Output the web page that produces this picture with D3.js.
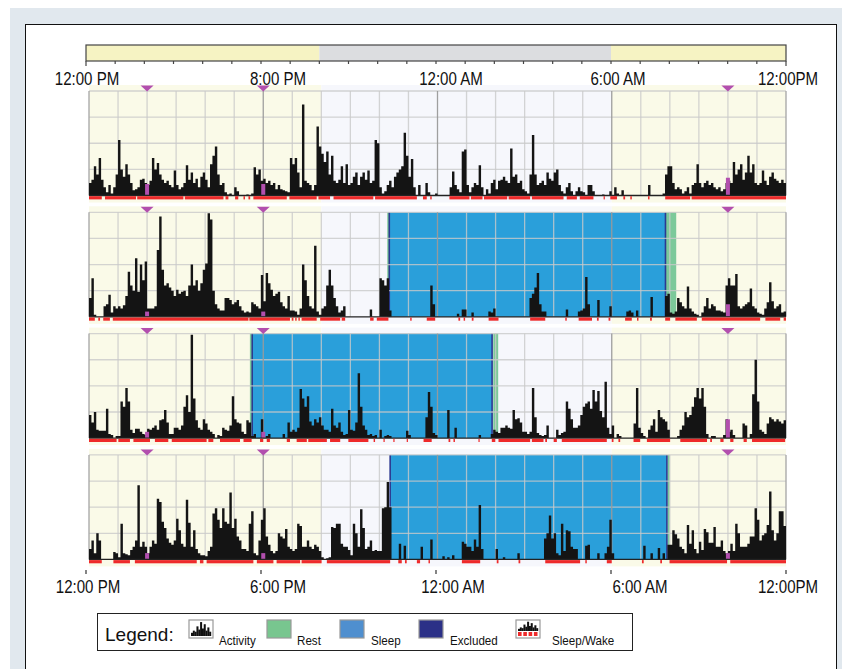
<!DOCTYPE html>
<html>
<head>
<meta charset="utf-8">
<script src="https://cdn.jsdelivr.net/npm/d3@7"></script>
<style>
  body { margin: 0; background: #fff; }
  svg { display: block; font-family: "Liberation Sans", Arial, sans-serif; }
  .axisLabel { font-size: 17.5px; fill: #111; }
</style>
</head>
<body>
<div id="chart"></div>
<script>
// activity counts, 5-minute bins, 12 per hour, starting at 12:00 PM (0-100 scale)
const act1 = [
  [12,15,28,20,36,15,8,3,10,2,8,20],
  [53,25,18,30,20,12,5,6,8,15,16,12],
  [10,14,36,25,31,20,15,12,14,10,8,24],
  [10,6,8,12,29,15,22,12,16,8,18,22],
  [15,8,30,38,47,20,10,12,3,1,2,0],
  [8,4,0,0,0,1,0,2,27,20,25,14],
  [16,12,14,10,12,6,10,6,5,4,3,36],
  [30,36,22,8,87,14,12,10,5,10,66,47],
  [40,32,42,20,38,14,12,15,28,12,30,10],
  [12,18,22,10,18,22,15,24,12,14,53,50],
  [8,2,4,10,14,8,18,22,25,28,60,38],
  [18,35,8,0,10,0,0,12,3,0,0,2],
  [0,0,0,0,0,8,23,10,6,3,42,44],
  [10,3,8,12,10,29,8,0,6,2,12,15],
  [6,14,15,18,14,12,45,18,20,12,14,6],
  [4,2,20,58,20,10,12,14,10,22,16,14],
  [22,25,10,4,2,8,12,4,0,4,8,4],
  [3,0,10,10,4,0,0,0,1,0,0,4],
  [0,8,2,0,5,0,0,0,0,0,0,0],
  [0,0,0,10,0,0,0,0,0,2,20,28],
  [28,12,6,8,6,2,4,8,2,10,12,30],
  [12,8,12,14,10,12,8,6,8,4,6,12],
  [14,12,32,20,25,30,15,22,38,22,30,12],
  [10,12,24,14,10,18,22,16,14,12,15,12]
].flat();

const act2 = [
  [18,37,2,0,0,0,10,12,21,4,10,8],
  [10,8,11,20,43,30,25,56,24,50,35,53],
  [8,8,8,10,64,96,45,30,32,28,25,20],
  [26,22,24,25,20,30,50,30,35,25,32,45],
  [51,99,93,25,12,8,6,6,18,18,16,12],
  [14,16,10,6,4,5,4,14,12,10,8,40],
  [15,42,32,26,20,22,24,14,10,8,20,6],
  [6,5,2,8,50,35,20,10,8,68,5,2],
  [8,10,30,45,30,18,10,4,6,10,0,0],
  [0,0,0,0,0,0,0,0,7,0,0,0],
  [37,35,30,37,6,0,0,0,0,0,0,0],
  [0,0,0,0,0,0,0,0,0,30,12,0],
  [0,0,0,0,0,0,0,0,3,0,7,7],
  [0,0,4,0,0,0,0,0,0,5,4,8],
  [0,0,0,0,0,0,0,0,0,0,0,0],
  [0,0,18,22,28,42,12,5,5,0,0,0],
  [0,0,0,0,0,7,0,0,0,0,5,6],
  [8,38,12,0,0,0,16,0,0,0,0,10],
  [0,0,0,0,0,0,5,6,4,0,6,0],
  [0,0,0,0,19,0,0,0,0,0,20,22],
  [4,3,5,18,14,10,8,29,8,5,3,2],
  [0,4,10,18,8,12,10,6,6,5,4,30],
  [37,30,30,41,10,8,10,12,14,27,10,8],
  [4,3,2,8,14,33,15,8,10,12,4,5]
].flat();

const act3 = [
  [22,15,25,8,7,7,7,28,4,3,0,2],
  [2,35,30,48,35,8,5,9,9,6,4,3],
  [9,8,10,12,8,17,18,27,15,4,4,10],
  [10,8,12,30,41,25,99,38,17,10,8,18],
  [14,8,6,4,0,3,2,10,8,7,12,40],
  [18,15,14,6,4,17,15,2,4,0,0,18],
  [0,2,4,0,0,0,0,0,4,0,15,6],
  [8,6,10,47,38,30,40,16,12,18,15,20],
  [12,8,8,6,28,12,10,15,6,3,4,27],
  [8,7,15,62,30,12,8,3,4,2,3,0],
  [8,0,2,3,2,0,0,0,0,0,0,7],
  [3,0,0,0,0,0,0,20,44,30,5,3],
  [0,0,0,0,27,0,0,10,0,0,0,0],
  [0,0,0,0,0,3,0,0,0,0,4,8],
  [6,5,10,10,12,10,9,27,18,19,15,6],
  [6,4,6,48,20,5,3,2,3,12,0,0],
  [0,8,3,5,6,35,28,18,10,10,12,22],
  [30,33,35,28,46,35,45,26,20,54,10,4],
  [12,0,4,2,0,0,0,0,0,14,48,10],
  [5,2,0,8,12,18,6,27,20,18,16,8],
  [0,0,0,2,8,12,25,20,22,30,39,48],
  [38,48,30,4,0,2,2,0,0,0,3,18],
  [6,8,3,0,0,0,14,12,0,4,42,75],
  [35,8,6,4,14,20,18,16,18,16,14,17]
].flat();

const act4 = [
  [10,18,6,25,18,0,0,0,0,0,7,6],
  [2,34,6,5,4,9,12,18,71,12,17,12],
  [6,12,18,15,58,55,36,30,20,16,14,18],
  [39,28,15,12,57,35,12,28,10,6,4,4],
  [3,8,12,44,49,38,30,49,36,34,64,30],
  [39,22,18,10,10,8,34,46,6,4,18,38],
  [49,22,14,8,6,8,25,22,20,29,12,10],
  [8,10,34,32,12,12,18,12,10,14,12,8],
  [2,0,1,2,31,30,34,34,15,12,12,9],
  [4,34,25,12,48,30,10,12,18,8,9,8],
  [8,49,50,74,50,0,0,0,15,0,13,0],
  [0,0,0,0,0,12,0,0,0,19,0,0],
  [0,0,3,0,2,0,4,0,0,0,17,15],
  [12,12,8,19,12,52,10,0,0,0,0,0],
  [10,0,0,2,0,0,0,0,0,6,0,0],
  [0,0,0,0,0,0,0,0,20,25,42,20],
  [25,6,4,34,8,28,27,12,10,10,0,0],
  [0,13,14,0,0,0,6,0,0,6,12,38],
  [6,0,0,0,0,0,0,0,0,0,0,0],
  [0,13,0,0,6,0,0,11,0,6,0,14],
  [14,28,24,20,12,10,6,33,15,28,10,6],
  [17,9,29,26,16,16,31,12,12,18,8,6],
  [8,15,8,34,25,12,12,12,15,22,22,49],
  [38,18,23,25,33,65,28,18,25,46,46,32]
].flat();

// wake epochs (red sleep/wake strip), in hours after 12:00 PM
const wake1 = [[0,0.44],[0.55,1.62],[1.66,3.25],[3.3,4.63],[4.7,4.8],[5.03,5.14],[5.32,5.37],[5.49,5.55],[5.66,6.81],[6.9,7.84],[7.9,8.3],[8.42,9.79],[9.85,11.29],[11.5,11.63],[11.75,11.8],[12.41,13.1],[13.15,13.55],[13.6,14.4],[14.45,15.19],[15.25,16.34],[16.45,16.8],[16.9,17.37],[17.72,17.75],[17.95,18.18],[18.4,18.46],[18.64,18.69],[19.25,19.3],[19.84,20.7],[20.75,24]];
const wake2 = [[0,0.2],[0.32,0.38],[0.49,0.72],[0.82,5.49],[5.52,6.92],[6.98,7.04],[7.1,7.15],[7.21,7.26],[7.32,7.84],[7.96,8.65],[8.7,8.82],[9.68,9.8],[9.91,10.31],[11.06,11.11],[11.63,11.92],[12.72,12.78],[12.9,12.95],[13.18,13.24],[13.76,14.1],[15.19,15.71],[16.4,16.45],[16.86,17.32],[17.49,17.55],[17.89,17.95],[18.46,18.69],[18.87,18.92],[19.32,19.38],[19.84,20.01],[20.19,20.93],[21.1,23.11],[23.29,23.8],[23.92,24]];
const wake3 = [[0,0.95],[1.01,1.41],[1.53,2.1],[2.27,2.73],[2.85,4.05],[4.11,4.28],[4.51,5.2],[5.32,5.6],[5.89,6.0],[6.12,6.23],[6.81,6.92],[7.15,7.5],[7.55,8.19],[8.3,8.65],[8.93,9.62],[9.8,9.85],[10.14,10.18],[10.48,10.52],[10.94,10.98],[11.52,11.8],[12.38,12.44],[12.55,12.6],[13.41,13.45],[13.87,13.99],[14.1,15.19],[15.25,15.65],[15.71,15.77],[16.0,16.11],[16.28,17.83],[18.0,18.06],[18.23,18.29],[18.75,18.98],[19.21,20.01],[20.36,21.28],[21.39,21.45],[21.74,21.85],[22.08,22.19],[22.54,22.65],[22.83,23.97]];
const wake4 = [[0,0.44],[0.84,1.41],[1.58,3.71],[3.82,3.94],[4.05,5.66],[5.78,6.35],[6.46,7.27],[7.32,8.01],[8.19,10.37],[10.65,10.77],[10.88,10.94],[11.29,11.4],[11.69,11.74],[12.84,13.47],[14.04,14.1],[14.79,14.85],[15.71,16.91],[17.09,17.14],[17.83,18.0],[19.04,19.1],[19.67,19.73],[19.99,21.97],[22.08,24]];

// rest / sleep intervals per day (hours after 12:00 PM)
const restIntervals = [[], [[10.27,10.34],[19.85,20.22]], [[5.54,5.62],[13.92,14.09]], [[19.93,20.0]]];
const sleepIntervals = [[], [[10.34,19.85]], [[5.62,13.88]], [[10.37,19.9]]];

// light / dark periods (8 PM to 6 AM is dark)
const periods = [[0,8,"light"],[8,18,"dark"],[18,24,"light"]];

// event markers (2 PM, 6 PM, 10 AM) and their counts per day
const eventHours = [2, 6, 22];
const eventLevels = [[11,11,17],[5,5,12],[6,6,18],[6,6,6]];

const tickHours = [0, 6, 12, 18, 24];
const topTickLabels = ["12:00 PM", "8:00 PM", "12:00 AM", "6:00 AM", "12:00PM"];
const bottomTickLabels = ["12:00 PM", "6:00 PM", "12:00 AM", "6:00 AM", "12:00PM"];

const legendLabels = ["Activity", "Rest", "Sleep", "Excluded", "Sleep/Wake"];
const legendIconBars = [3,5,4,9,6,13,7,11,5,8,4];

const days = [act1, act2, act3, act4];
const wakes = [wake1, wake2, wake3, wake4];

const W = 842, H = 669;
const plotX = d3.scaleLinear().domain([0, 24]).range([89, 786]);
const barX = d3.scaleLinear().domain([0, 24]).range([86, 786]);
const panelH = 104.5;
const panelTop = i => 91 + i * 121.3;

const col = {
  light: "#fafae8", dark: "#f6f7fc",
  barLight: "#f6f3c3", barDark: "#dcdde0",
  sleep: "#2a9fda", rest: "#7cc99a", excl: "#2b3990",
  wake: "#ee2a2a", event: "#b24fae"
};

// squeeze text horizontally, the original uses a condensed face
function condense(sel, f) {
  sel.each(function () {
    const w = this.getComputedTextLength();
    d3.select(this).attr("textLength", w * f).attr("lengthAdjust", "spacingAndGlyphs");
  });
}

const svg = d3.select("#chart").append("svg").attr("width", W).attr("height", H);

svg.append("rect").attr("x", 10).attr("y", 8).attr("width", W - 10).attr("height", H - 8).attr("fill", "#e1e8ee");
svg.append("rect").attr("x", 25.5).attr("y", 24.5).attr("width", 811).attr("height", 700)
  .attr("fill", "#fff").attr("stroke", "#111");

// top light/dark bar
const barY = 45, barH = 16;
svg.append("g").selectAll("rect").data(periods).join("rect")
  .attr("x", d => barX(d[0])).attr("width", d => barX(d[1]) - barX(d[0]))
  .attr("y", barY).attr("height", barH)
  .attr("fill", d => d[2] === "light" ? col.barLight : col.barDark);
svg.append("rect").attr("x", barX(0)).attr("y", barY).attr("width", barX(24) - barX(0)).attr("height", barH)
  .attr("fill", "none").attr("stroke", "#444").attr("stroke-width", 1.2);
svg.append("g").selectAll("line").data(d3.range(0, 25)).join("line")
  .attr("x1", d => barX(d)).attr("x2", d => barX(d))
  .attr("y1", barY + barH).attr("y2", d => (d % 24 === 0) ? barY + barH + 5 : barY + barH + 3)
  .attr("stroke", "#444").attr("stroke-width", 1.2);

const topDx = [1, 17, 15, 7, 2];
svg.append("g").selectAll("text").data(topTickLabels).join("text")
  .attr("class", "axisLabel")
  .attr("x", (d, i) => barX(tickHours[i]) + topDx[i]).attr("y", 85)
  .attr("text-anchor", "middle").text(d => d)
  .call(condense, 0.86);

// day panels
days.forEach((act, i) => {
  const top = panelTop(i), base = top + panelH;
  const y = d3.scaleLinear().domain([0, 100]).range([base, top]);
  const g = svg.append("g");

  g.selectAll(".bg").data(periods).join("rect")
    .attr("x", d => plotX(d[0])).attr("width", d => plotX(d[1]) - plotX(d[0]))
    .attr("y", top - 6).attr("height", panelH + 13)
    .attr("fill", d => d[2] === "light" ? col.light : col.dark);

  g.selectAll(".rest").data(restIntervals[i]).join("rect")
    .attr("x", d => plotX(d[0])).attr("width", d => plotX(d[1]) - plotX(d[0]))
    .attr("y", top).attr("height", panelH).attr("fill", col.rest);

  g.selectAll(".sleep").data(sleepIntervals[i]).join("rect")
    .attr("x", d => plotX(d[0])).attr("width", d => plotX(d[1]) - plotX(d[0]))
    .attr("y", top).attr("height", panelH).attr("fill", col.sleep);

  sleepIntervals[i].forEach(s => {
    g.selectAll(null).data(s).join("line")
      .attr("x1", d => plotX(d)).attr("x2", d => plotX(d))
      .attr("y1", top).attr("y2", base)
      .attr("stroke", col.excl).attr("stroke-width", 1.6);
  });

  // grid
  g.selectAll(".hg").data([25, 50, 75, 100]).join("line")
    .attr("x1", plotX(0)).attr("x2", plotX(24))
    .attr("y1", d => y(d)).attr("y2", d => y(d))
    .attr("stroke", "#c9c9c9").attr("stroke-opacity", 0.8).attr("stroke-width", 1.3);
  g.selectAll(".vg").data(d3.range(1, 24)).join("line")
    .attr("x1", d => plotX(d)).attr("x2", d => plotX(d))
    .attr("y1", top).attr("y2", base)
    .attr("stroke", d => d % 6 === 0 ? "#9a9a9a" : "#c9c9c9")
    .attr("stroke-opacity", d => d % 6 === 0 ? 0.95 : 0.8)
    .attr("stroke-width", 1.3);
  g.selectAll(".border").data([0, 24]).join("line")
    .attr("x1", d => plotX(d)).attr("x2", d => plotX(d))
    .attr("y1", top).attr("y2", base)
    .attr("stroke", "#a5a5a5").attr("stroke-width", 1.3);

  // activity histogram
  const area = d3.area()
    .x((d, k) => plotX(k / 12)).y0(base).y1(d => y(d))
    .curve(d3.curveStepAfter);
  g.append("path").datum(act.concat([act[act.length - 1]]))
    .attr("d", area).attr("fill", "#141414");

  // event bars
  g.selectAll(".ev").data(eventHours).join("rect")
    .attr("x", d => plotX(d) - 2).attr("width", 4)
    .attr("y", (d, k) => y(eventLevels[i][k])).attr("height", (d, k) => base - y(eventLevels[i][k]))
    .attr("fill", col.event);

  g.append("line").attr("x1", plotX(0)).attr("x2", plotX(24))
    .attr("y1", base).attr("y2", base).attr("stroke", "#222").attr("stroke-width", 1.3);

  g.selectAll(".wk").data(wakes[i]).join("rect")
    .attr("x", d => plotX(d[0])).attr("width", d => Math.max(1.2, plotX(d[1]) - plotX(d[0])))
    .attr("y", base + 0.7).attr("height", 3.2).attr("fill", col.wake);

  g.selectAll(".tri").data(eventHours).join("path")
    .attr("d", d => `M${plotX(d) - 6.5},${top - 5.5} L${plotX(d) + 6.5},${top - 5.5} L${plotX(d)},${top + 0.5} Z`)
    .attr("fill", col.event);
});

// bottom axis
const axY = 570;
svg.append("g").selectAll("line").data(tickHours).join("line")
  .attr("x1", d => barX(d)).attr("x2", d => barX(d))
  .attr("y1", axY).attr("y2", axY + 4).attr("stroke", "#333").attr("stroke-width", 1.2);
const botDx = [2, 17, 17, 29, 2];
svg.append("g").selectAll("text").data(bottomTickLabels).join("text")
  .attr("class", "axisLabel")
  .attr("x", (d, i) => barX(tickHours[i]) + botDx[i]).attr("y", 593)
  .attr("text-anchor", "middle").text(d => d)
  .call(condense, 0.86);

// legend
const lg = svg.append("g");
lg.append("rect").attr("x", 97.5).attr("y", 613.5).attr("width", 535).attr("height", 37)
  .attr("fill", "#fff").attr("stroke", "#222");
lg.append("text").attr("x", 105).attr("y", 641).attr("font-size", 19).attr("fill", "#111").text("Legend:");
const iconX = [189, 267, 340, 419, 516];
const textX = [219, 297, 371, 450, 552];
const iconFill = ["#fff", "#78c68f", "#4f8fcf", "#2b3087", "#fff"];
legendLabels.forEach((lab, k) => {
  lg.append("rect").attr("x", iconX[k]).attr("y", 620).attr("width", 24).attr("height", 18)
    .attr("fill", iconFill[k]).attr("stroke", "#999").attr("stroke-width", 1.2);
  if (k === 0 || k === 4) {
    const ix = d3.scaleLinear().domain([0, legendIconBars.length]).range([iconX[k] + 2, iconX[k] + 22]);
    const iy = d3.scaleLinear().domain([0, 14]).range([k === 4 ? 631 : 636, 621]);
    lg.selectAll(null).data(legendIconBars).join("rect")
      .attr("x", (d, j) => ix(j)).attr("width", ix(1) - ix(0) + 0.2)
      .attr("y", d => iy(d)).attr("height", d => iy(0) - iy(d)).attr("fill", "#111");
    if (k === 4) {
      lg.selectAll(null).data(d3.range(4)).join("rect")
        .attr("x", j => iconX[k] + 2 + j * 5.3).attr("width", 3.6)
        .attr("y", 632).attr("height", 4).attr("fill", col.wake);
    }
  }
  lg.append("text").attr("x", textX[k]).attr("y", 645).attr("font-size", 13.5).attr("fill", "#111")
    .text(lab).call(condense, 0.86);
});
</script>
</body>
</html>
